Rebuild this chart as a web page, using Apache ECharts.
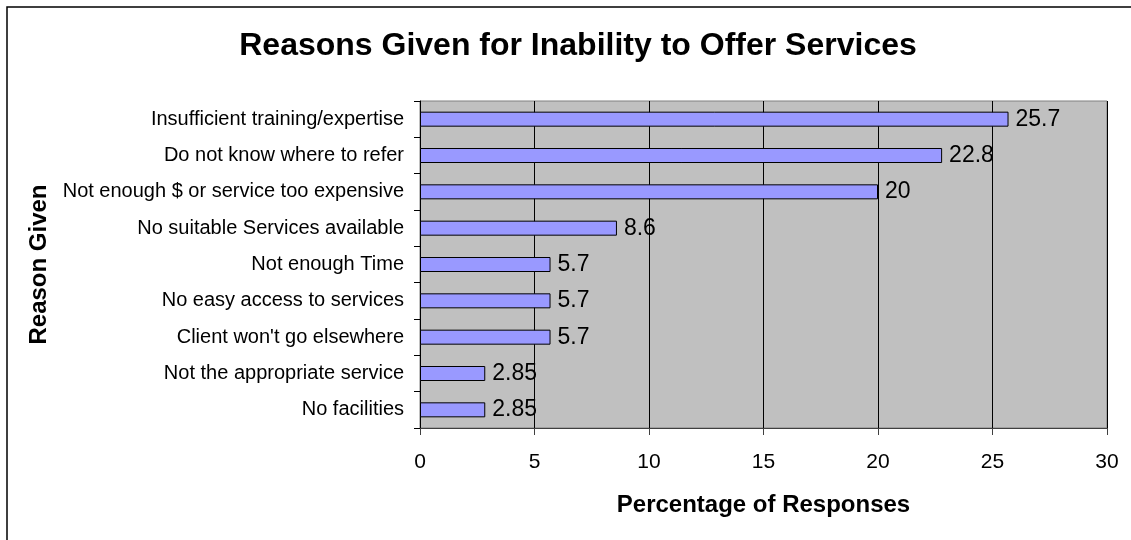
<!DOCTYPE html>
<html>
<head>
<meta charset="utf-8">
<script src="https://cdn.jsdelivr.net/npm/echarts@6/dist/echarts.min.js"></script>
<style>
  html, body { margin: 0; padding: 0; background: #fff; }
  #chart { width: 1131px; height: 540px; }
</style>
</head>
<body>
<div id="chart"></div>
<script>
// reasons, top to bottom as in the picture
const reasons = [
  "Insufficient training/expertise",
  "Do not know where to refer",
  "Not enough $ or service too expensive",
  "No suitable Services available",
  "Not enough Time",
  "No easy access to services",
  "Client won't go elsewhere",
  "Not the appropriate service",
  "No facilities"
];
const percentages = [25.7, 22.8, 20, 8.6, 5.7, 5.7, 5.7, 2.85, 2.85];
const xTicks = [0, 5, 10, 15, 20, 25, 30];

const font = "Liberation Sans, Arial, sans-serif";
const chart = echarts.init(document.getElementById("chart"));

const option = {
  backgroundColor: "#fff",
  animation: false,
  title: {
    text: "Reasons Given for Inability to Offer Services",
    left: 573,
    top: 25,
    textAlign: "center",
    textStyle: { fontFamily: font, fontSize: 32, fontWeight: "bold", color: "#000" }
  },
  // outer frame (only left/top edges visible in the source)
  graphic: [{
    type: "rect",
    shape: { x: 7, y: 7, width: 1300, height: 700 },
    style: { fill: "none", stroke: "#000", lineWidth: 1.5 },
    silent: true
  }],
  grid: {
    left: 420, right: 24, top: 101, bottom: 112,
    show: true,
    backgroundColor: "#c0c0c0",
    borderColor: "#808080",
    borderWidth: 1
  },
  xAxis: {
    type: "value",
    min: xTicks[0],
    max: xTicks[xTicks.length - 1],
    interval: 5,
    name: "Percentage of Responses",
    nameLocation: "middle",
    nameGap: 65,
    nameTextStyle: { fontFamily: font, fontSize: 24, fontWeight: "bold", color: "#000" },
    axisLine: { show: true, lineStyle: { color: "#404040", width: 1 } },
    axisTick: { show: true, length: 7, lineStyle: { color: "#404040" } },
    axisLabel: { margin: 24, fontFamily: font, fontSize: 21, color: "#000" },
    splitLine: { show: true, lineStyle: { color: "#000", width: 1 } }
  },
  yAxis: {
    type: "category",
    data: reasons,
    inverse: true,
    name: "Reason Given",
    nameLocation: "middle",
    nameGap: 365,
    nameTextStyle: { fontFamily: font, fontSize: 24, fontWeight: "bold", color: "#000" },
    axisLine: { show: true, lineStyle: { color: "#000", width: 1 } },
    axisTick: { show: true, length: 6, lineStyle: { color: "#000" } },
    axisLabel: { margin: 16, fontFamily: font, fontSize: 20, color: "#000" }
  },
  series: [{
    type: "bar",
    data: percentages,
    barWidth: 15,
    itemStyle: { color: "#9999ff", borderColor: "#000", borderWidth: 1 },
    label: {
      show: true,
      position: "right",
      distance: 7,
      fontFamily: font,
      fontSize: 23,
      color: "#000"
    }
  }]
};

chart.setOption(option);
</script>
</body>
</html>
